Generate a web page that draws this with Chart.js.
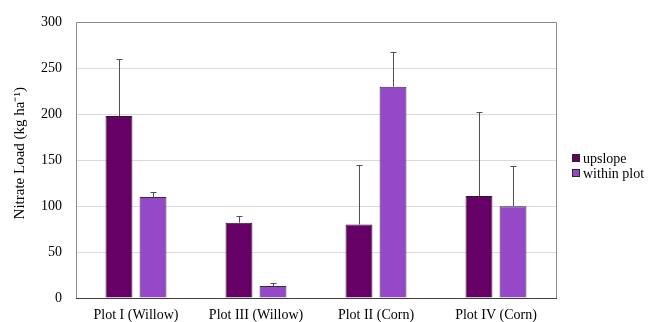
<!DOCTYPE html>
<html>
<head>
<meta charset="utf-8">
<script src="https://cdn.jsdelivr.net/npm/chart.js@4/dist/chart.umd.min.js"></script>
<style>
  html, body { margin: 0; padding: 0; background: #ffffff; }
  #wrap { width: 649px; height: 322px; position: relative; }
</style>
</head>
<body>
<div id="wrap"><canvas id="c"></canvas></div>
<script>
// Nitrate load per plot, mean values and upper error limits (kg ha-1)
const categories = ['Plot I (Willow)', 'Plot III (Willow)', 'Plot II (Corn)', 'Plot IV (Corn)'];
const upslope = [198, 82, 80, 111];
const upslopeErrTop = [260, 89, 145, 202];
const withinPlot = [110, 13, 230, 100];
const withinPlotErrTop = [115, 16, 268, 144];
const yTicks = [0, 50, 100, 150, 200, 250, 300];
const yTitle = 'Nitrate Load (kg ha⁻¹)';

const serif = "'Liberation Serif', 'Times New Roman', serif";

// Upper-only error bars with a small cap, drawn from each bar's top
const errorBars = {
  id: 'errorBars',
  afterDatasetsDraw(chart) {
    const ctx = chart.ctx;
    const yScale = chart.scales.y;
    ctx.save();
    ctx.strokeStyle = '#505050';
    ctx.lineWidth = 1;
    chart.data.datasets.forEach((ds, di) => {
      const meta = chart.getDatasetMeta(di);
      meta.data.forEach((bar, i) => {
        const x = Math.round(bar.x) + 0.5;
        const y0 = yScale.getPixelForValue(ds.data[i]);
        const y1 = Math.round(yScale.getPixelForValue(ds.errTop[i])) + 0.5;
        ctx.beginPath();
        ctx.moveTo(x, y0);
        ctx.lineTo(x, y1);
        ctx.moveTo(x - 3, y1);
        ctx.lineTo(x + 3, y1);
        ctx.stroke();
      });
    });
    ctx.restore();
  }
};

// Frame around the plot area
const plotFrame = {
  id: 'plotFrame',
  afterDraw(chart) {
    const { left, right, top, bottom } = chart.chartArea;
    const ctx = chart.ctx;
    const l = Math.round(left) + 0.5, r = Math.round(right) + 0.5;
    const t = Math.round(top) + 0.5, b = Math.round(bottom) + 0.5;
    ctx.save();
    ctx.lineWidth = 1;
    ctx.strokeStyle = '#8a8a8a';
    ctx.beginPath();
    ctx.moveTo(l, b);
    ctx.lineTo(l, t);
    ctx.lineTo(r, t);
    ctx.lineTo(r, b);
    ctx.stroke();
    ctx.strokeStyle = '#404040';
    ctx.beginPath();
    ctx.moveTo(l - 0.5, b);
    ctx.lineTo(r + 0.5, b);
    ctx.stroke();
    ctx.restore();
  }
};

// Rotated y-axis title, left of the tick labels
const axisTitle = {
  id: 'axisTitle',
  afterDraw(chart) {
    const ctx = chart.ctx;
    const area = chart.chartArea;
    ctx.save();
    ctx.translate(area.left - 56, (area.top + area.bottom) / 2 - 7);
    ctx.rotate(-Math.PI / 2);
    ctx.font = '15px ' + serif;
    ctx.fillStyle = '#000000';
    ctx.textAlign = 'center';
    ctx.textBaseline = 'middle';
    ctx.fillText(yTitle, 0, 0);
    ctx.restore();
  }
};

// Legend to the right of the plot: small outlined squares with serif labels
const sideLegend = {
  id: 'sideLegend',
  afterDraw(chart) {
    const ctx = chart.ctx;
    const area = chart.chartArea;
    const sets = chart.data.datasets;
    const rowH = 15;
    const x0 = Math.round(area.right) + 16;
    const yMid = (area.top + area.bottom) / 2;
    const yStart = yMid - (sets.length - 1) * rowH / 2 + 5;
    ctx.save();
    ctx.font = '14px ' + serif;
    ctx.textBaseline = 'middle';
    sets.forEach((ds, i) => {
      const y = Math.round(yStart + i * rowH);
      ctx.fillStyle = ds.backgroundColor;
      ctx.fillRect(x0, y - 4, 8, 8);
      ctx.strokeStyle = '#2a2a2a';
      ctx.lineWidth = 1;
      ctx.strokeRect(x0 + 0.5, y - 3.5, 7, 7);
      ctx.fillStyle = '#000000';
      ctx.fillText(ds.label, x0 + 11, y + 1);
    });
    ctx.restore();
  }
};

new Chart(document.getElementById('c'), {
  type: 'bar',
  data: {
    labels: categories,
    datasets: [
      {
        label: 'upslope',
        data: upslope,
        errTop: upslopeErrTop,
        backgroundColor: '#660066',
        borderColor: '#2a1a2a',
        borderWidth: 1,
        borderSkipped: 'bottom'
      },
      {
        label: 'within plot',
        data: withinPlot,
        errTop: withinPlotErrTop,
        backgroundColor: '#9549c9',
        borderColor: '#3a2a45',
        borderWidth: 1,
        borderSkipped: 'bottom'
      }
    ]
  },
  options: {
    responsive: true,
    maintainAspectRatio: false,
    animation: false,
    datasets: {
      bar: { categoryPercentage: 0.567, barPercentage: 0.79 }
    },
    layout: { padding: { top: 14, right: 93, bottom: 0, left: 12 } },
    plugins: {
      legend: { display: false },
      tooltip: { enabled: false }
    },
    scales: {
      x: {
        afterFit(scale) { scale.height = 24; },
        grid: { display: false, drawTicks: false },
        border: { display: false },
        ticks: {
          color: '#000000',
          padding: 9,
          maxRotation: 0,
          font: { family: serif, size: 14 }
        }
      },
      y: {
        min: 0,
        max: 300,
        afterBuildTicks(scale) {
          scale.ticks = yTicks.map(v => ({ value: v }));
        },
        afterFit(scale) { scale.width = 64; },
        grid: {
          color: (c) => (c.tick && (c.tick.value === 0 || c.tick.value === 300)) ? 'rgba(0,0,0,0)' : '#d9d9d9',
          drawTicks: false
        },
        border: { display: false },
        ticks: {
          color: '#000000',
          padding: 14,
          font: { family: serif, size: 14 }
        }
      }
    }
  },
  plugins: [errorBars, plotFrame, axisTitle, sideLegend]
});
</script>
</body>
</html>
